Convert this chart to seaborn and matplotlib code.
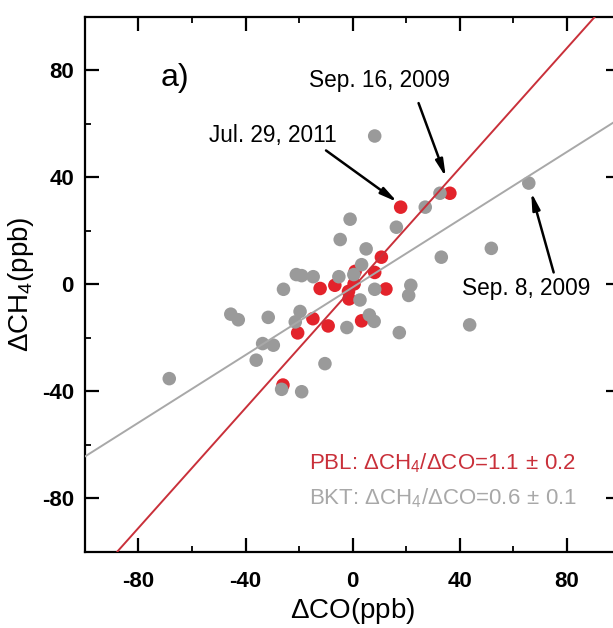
import matplotlib
matplotlib.use("Agg")
import matplotlib.pyplot as plt
import seaborn as sns
import pandas as pd
from matplotlib.ticker import MultipleLocator

# ---- data ----
pbl_dco = [18.0, 36.4, 10.8, 8.3, 1.0, -12.1, -6.6, 0.6, -1.5, -1.3, 12.5, -14.8, -9.1, 3.4, -20.5, -26.0]
pbl_dch4 = [28.8, 34.0, 10.1, 4.4, 4.8, -1.6, -0.4, 0.1, -2.7, -5.5, -1.8, -12.9, -15.6, -13.7, -18.2, -37.7]

bkt_dco = [8.3, 32.7, 27.2, -0.9, 16.4, -4.6, 5.1, 33.2, 3.4, -21.0, -19.0, -14.7, -5.1, 0.5,
           -25.8, 8.3, 21.8, 21.0, 2.8, -19.6, -31.5, -21.4, 6.3, 8.1, -2.1, 17.5, 43.8, -33.6,
           -29.6, -36.0, -10.3, -45.5, -42.7, -68.5, -26.5, -19.0, 65.9, 51.9]
bkt_dch4 = [55.4, 34.0, 28.8, 24.3, 21.3, 16.7, 13.2, 10.1, 7.3, 3.6, 3.2, 2.8, 2.8, 3.6,
            -1.9, -1.9, -0.4, -4.2, -5.9, -10.2, -12.4, -14.1, -11.5, -13.9, -16.2, -18.1, -15.2, -22.2,
            -22.8, -28.4, -29.7, -11.2, -13.3, -35.3, -39.3, -40.2, 37.8, 13.4]

fit_names = ["PBL", "BKT"]
fit_slopes = [1.12, 0.632]
fit_intercepts = [-1.5, -1.2]

annot_labels = ["Sep. 16, 2009", "Jul. 29, 2011", "Sep. 8, 2009"]
annot_text_xy = [(10.2, 76.3), (-29.7, 55.7), (65.0, -1.7)]
annot_tail_xy = [(24.7, 67.7), (-9.9, 50.0), (75.2, 4.4)]
annot_tip_xy = [(34.9, 40.0), (16.8, 30.7), (66.8, 34.4)]

ticks = [-80, -40, 0, 40, 80]

# ---- style ----
sns.set_style("ticks")
plt.rcParams["font.family"] = ["Liberation Sans", "DejaVu Sans"]
plt.rcParams["mathtext.fontset"] = "custom"
plt.rcParams["mathtext.rm"] = "Liberation Sans"
plt.rcParams["mathtext.it"] = "Liberation Sans:italic"
plt.rcParams["mathtext.bf"] = "Liberation Sans:bold"
plt.rcParams["axes.unicode_minus"] = False
plt.rcParams["text.color"] = "black"
plt.rcParams["axes.labelcolor"] = "black"
plt.rcParams["xtick.color"] = "black"
plt.rcParams["ytick.color"] = "black"

RED_PT = "#e3232b"
GRAY_PT = "#9a9a9a"
RED_LN = "#c9303a"
GRAY_LN = "#a8a8a8"

fig = plt.figure(figsize=(6.13, 6.28), dpi=100)
ax = fig.add_axes([85 / 613, 1 - 551.7 / 628, (620 - 85) / 613, (551.7 - 16.7) / 628])

df_pbl = pd.DataFrame({"dco": pbl_dco, "dch4": pbl_dch4})
df_bkt = pd.DataFrame({"dco": bkt_dco, "dch4": bkt_dch4})

sns.scatterplot(data=df_pbl, x="dco", y="dch4", ax=ax, color=RED_PT, s=95,
                edgecolor="none", zorder=2)
sns.scatterplot(data=df_bkt, x="dco", y="dch4", ax=ax, color=GRAY_PT, s=95,
                edgecolor="none", zorder=2)

line_colors = [RED_LN, GRAY_LN]
for name, m, b, c in zip(fit_names, fit_slopes, fit_intercepts, line_colors):
    ax.axline((0, b), slope=m, color=c, lw=1.4, zorder=3)

ax.set_xlim(-100, 100)
ax.set_ylim(-100, 100)

for lab, txy, tail, tip in zip(annot_labels, annot_text_xy, annot_tail_xy, annot_tip_xy):
    ax.text(txy[0], txy[1], lab, fontsize=16.3, ha="center", va="center", color="black")
    ax.annotate("", xy=tip, xytext=tail,
                arrowprops=dict(arrowstyle="-|>,head_length=1.0,head_width=0.22",
                                color="black", lw=1.8, shrinkA=0, shrinkB=0),
                zorder=4)

ax.text(-66.2, 77.0, "a)", fontsize=23, ha="center", va="center")

ax.text(-16.3, -66.8, r"PBL: $\Delta$CH$_4$/$\Delta$CO=1.1$\,\pm\,$0.2", fontsize=16,
        color=RED_LN, ha="left", va="center")
ax.text(-16.3, -80.0, r"BKT: $\Delta$CH$_4$/$\Delta$CO=0.6$\,\pm\,$0.1", fontsize=16,
        color=GRAY_LN, ha="left", va="center")

ax.set_xticks(ticks)
ax.set_yticks(ticks)
ax.set_xticklabels([str(t) for t in ticks])
ax.set_yticklabels([str(t) for t in ticks])
ax.xaxis.set_minor_locator(MultipleLocator(20))
ax.yaxis.set_minor_locator(MultipleLocator(20))
ax.tick_params(which="both", direction="in", top=True, right=True, color="black",
               labelcolor="black")
ax.tick_params(which="major", length=10, width=1.6)
ax.tick_params(which="minor", length=4.5, width=1.3)
ax.tick_params(axis="x", which="major", pad=14, labelsize=16)
ax.tick_params(axis="y", which="major", pad=8, labelsize=16)
for lab in ax.get_xticklabels() + ax.get_yticklabels():
    lab.set_fontweight("bold")
for sp in ax.spines.values():
    sp.set_visible(True)
    sp.set_linewidth(1.6)
    sp.set_color("black")

ax.set_xlabel(r"$\Delta$CO(ppb)", fontsize=20, labelpad=3, color="black")
ax.set_ylabel(r"$\Delta$CH$_4$(ppb)", fontsize=20, labelpad=4, color="black")

fig.savefig("out.png", dpi=100)
